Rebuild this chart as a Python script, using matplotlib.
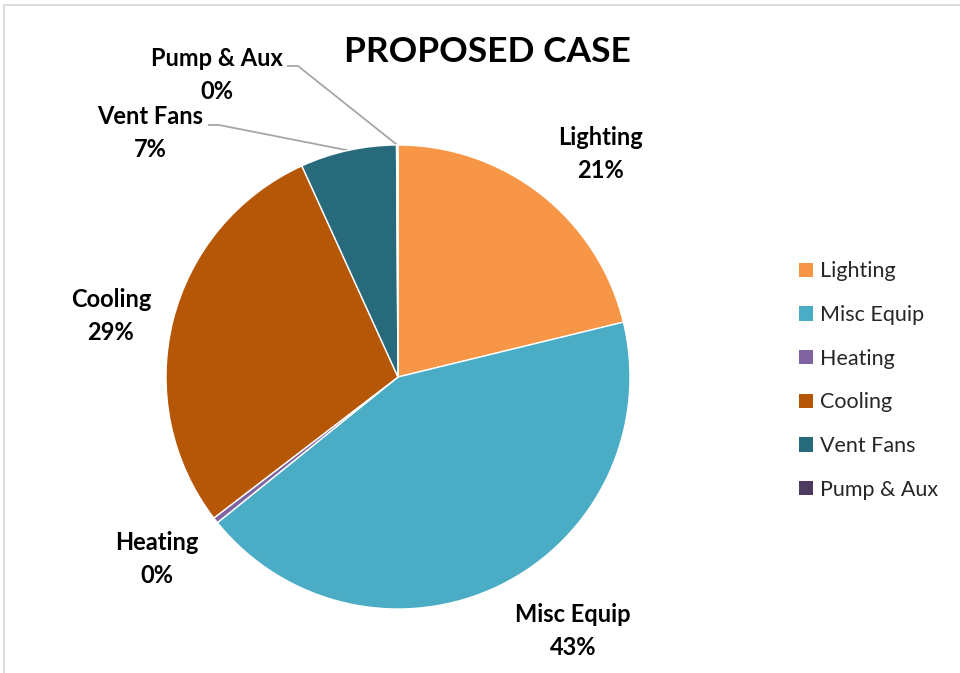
import matplotlib
matplotlib.use("Agg")
import matplotlib.pyplot as plt
import numpy as np
from matplotlib.patches import Patch, Rectangle

categories = ["Lighting", "Misc Equip", "Heating", "Cooling", "Vent Fans", "Pump & Aux"]
values = [21.2, 43.0, 0.4, 28.6, 6.7, 0.1]
pct_labels = ["21%", "43%", "0%", "29%", "7%", "0%"]
colors = ["#F79646", "#4BACC6", "#8064A2", "#B65708", "#276A7C", "#4D3B62"]

W, H = 960, 673
fig = plt.figure(figsize=(W / 100, H / 100), dpi=100)
ax = fig.add_axes([0, 0, 1, 1])
cx, cy, r = 398, H - 377, 232
wedges, _ = ax.pie(values, colors=colors, startangle=90, counterclock=False,
                   center=(cx, cy), radius=r,
                   wedgeprops=dict(edgecolor="white", linewidth=1))
ax.set_xlim(0, W)
ax.set_ylim(0, H)
ax.set_aspect("equal")
ax.axis("off")

font = "Lato"
lab_fs = 17
label_pos = {
    "Lighting": (601, 154, None),
    "Misc Equip": (573, 631, None),
    "Heating": (157, 559, None),
    "Cooling": (111, 316, None),
    "Vent Fans": (150, 133, (208, 125)),
    "Pump & Aux": (217, 75, (287, 66)),
}
for w, cat, pct in zip(wedges, categories, pct_labels):
    x, y, lead = label_pos[cat]
    ax.text(x, H - y, f"{cat}\n{pct}", ha="center", va="center", fontsize=lab_fs,
            fontweight="bold", family=font, color="black", linespacing=1.5)
    if lead is not None:
        mid = np.deg2rad((w.theta1 + w.theta2) / 2)
        px, py = cx + r * np.cos(mid), cy + r * np.sin(mid)
        lx, ly = lead
        ax.plot([lx, lx + 11, px], [H - ly, H - ly, py], color="#A6A6A6", lw=1.3,
                solid_capstyle="butt", zorder=0)

ax.text(487, H - 52, "PROPOSED CASE", ha="center", va="center", fontsize=25.5,
        fontweight="bold", family=font, color="black")

handles = [Patch(facecolor=c, edgecolor="none") for c in colors]
leg = fig.legend(handles, categories, loc="upper left", bbox_to_anchor=(780 / W, 1 - 242 / H),
                 frameon=False, handlelength=0.65, handleheight=0.65, handletextpad=0.3,
                 labelspacing=1.1, prop=dict(family=font, size=15.5))
for t in leg.get_texts():
    t.set_color("#262626")

fig.patches.append(Rectangle((4 / W, -0.1), 1.2, (H - 5) / H + 0.1, transform=fig.transFigure,
                             fill=False, edgecolor="#D9D9D9", lw=1.3))
fig.savefig("out.png", dpi=100, facecolor="white")
